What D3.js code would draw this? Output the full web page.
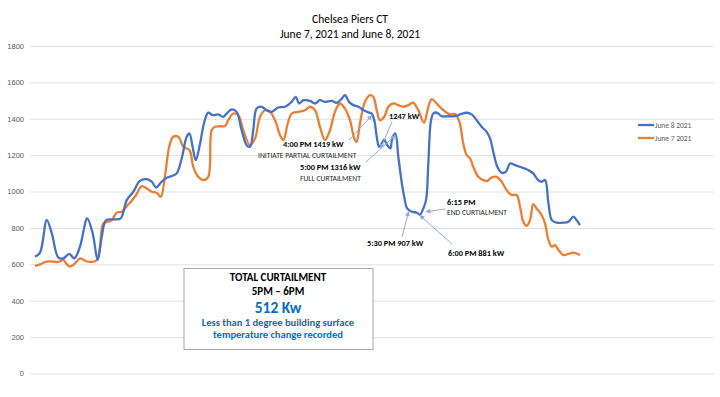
<!DOCTYPE html>
<html>
<head>
<meta charset="utf-8">
<script src="https://cdn.jsdelivr.net/npm/d3@7"></script>
<style>
  body { margin: 0; background: #fff; }
  svg { display: block; font-family: Carlito, "Liberation Sans Narrow", "Liberation Sans", sans-serif; }
</style>
</head>
<body>
<div class="canvas"></div>
<script>
// hour of day readings, kW
const june8Hours = [0, 0.22, 0.52, 0.74, 1.03, 1.25, 1.51, 1.73, 1.98, 2.30, 2.54, 2.76, 2.94, 3.13, 3.45, 3.77,
  4.04, 4.33, 4.62, 4.92, 5.14, 5.33, 5.58, 5.80, 6.06, 6.24, 6.46, 6.68, 6.80, 6.94, 7.08, 7.27, 7.44, 7.63,
  7.83, 8.07, 8.29, 8.45, 8.66, 8.88, 9.10, 9.32, 9.47, 9.61, 9.76, 9.98, 10.20, 10.42, 10.71, 11.01, 11.30,
  11.48, 11.63, 11.82, 12.11, 12.33, 12.55, 12.77, 13.07, 13.29, 13.51, 13.65, 13.83, 14.02, 14.24, 14.46,
  14.68, 14.83, 14.94, 15.05, 15.15, 15.27, 15.38, 15.51, 15.65, 15.73, 15.87, 16.00, 16.15, 16.26, 16.39,
  16.59, 16.81, 16.95, 17.07, 17.22, 17.32, 17.43, 17.54, 17.69, 17.91, 18.20, 18.50, 18.72, 19.01, 19.23,
  19.45, 19.67, 19.89, 20.04, 20.18, 20.36, 20.55, 20.74, 20.92, 21.14, 21.43, 21.72, 21.94, 22.16, 22.31,
  22.46, 22.61, 22.76, 22.97, 23.27, 23.49, 23.71, 23.85, 24];
const june8Kw = [642, 664, 843, 770, 637, 633, 657, 633, 697, 852, 770, 624, 752, 843, 847, 852,
  953, 999, 1059, 1068, 1054, 1023, 1054, 1076, 1087, 1100, 1182, 1301, 1319, 1246, 1173, 1264, 1374, 1434,
  1420, 1424, 1411, 1430, 1451, 1438, 1337, 1255, 1246, 1337, 1456, 1466, 1447, 1438, 1462, 1466, 1493,
  1520, 1484, 1502, 1498, 1484, 1502, 1493, 1498, 1488, 1511, 1530, 1493, 1475, 1466, 1448,
  1435, 1429, 1392, 1301, 1246, 1264, 1286, 1255, 1237, 1292, 1319, 1191, 1050, 971, 907,
  889, 884, 873, 898, 953, 1154, 1383, 1429, 1434, 1414, 1414, 1414, 1424, 1433, 1424,
  1392, 1356, 1328, 1292, 1219, 1136, 1103, 1109, 1154, 1145, 1133, 1118, 1100, 1063, 1054,
  1063, 935, 843, 829, 829, 834, 862, 843, 816];

const june7Hours = [0, 0.22, 0.52, 0.81, 1.03, 1.25, 1.40, 1.54, 1.76, 1.98, 2.20, 2.42, 2.72, 2.86, 3.01, 3.23,
  3.38, 3.60, 3.82, 4.04, 4.26, 4.45, 4.70, 4.92, 5.14, 5.36, 5.54, 5.72, 5.91, 6.09, 6.31, 6.53, 6.80, 6.97,
  7.19, 7.41, 7.63, 7.78, 7.93, 8.15, 8.37, 8.51, 8.73, 8.95, 9.17, 9.47, 9.69, 9.91, 10.13, 10.35, 10.57,
  10.79, 10.94, 11.13, 11.31, 11.60, 11.89, 12.11, 12.33, 12.55, 12.77, 12.99, 13.21, 13.43, 13.65, 13.87,
  14.06, 14.16, 14.31, 14.53, 14.75, 14.90, 15.05, 15.19, 15.38, 15.56, 15.78, 16.00, 16.22, 16.44, 16.66,
  16.88, 17.13, 17.32, 17.47, 17.69, 17.98, 18.28, 18.50, 18.69, 18.86, 19.01, 19.16, 19.30, 19.52, 19.74,
  19.92, 20.11, 20.33, 20.55, 20.77, 20.99, 21.21, 21.36, 21.50, 21.65, 21.80, 21.94, 22.09, 22.31, 22.46,
  22.61, 22.76, 22.90, 23.05, 23.27, 23.49, 23.71, 24];
const june7Kw = [591, 600, 615, 615, 613, 624, 600, 587, 605, 633, 620, 613, 624, 697, 825, 834,
  843, 884, 889, 920, 950, 981, 1030, 1017, 999, 993, 971, 1081, 1246, 1301, 1301, 1246, 1228, 1136,
  1081, 1063, 1081, 1337, 1356, 1359, 1360, 1392, 1429, 1420, 1337, 1255, 1292, 1411, 1447, 1438, 1392,
  1310, 1283, 1374, 1429, 1438, 1447, 1466, 1447, 1356, 1283, 1337, 1438, 1484, 1456, 1392,
  1292, 1273, 1374, 1493, 1530, 1520, 1447, 1392, 1411, 1466, 1484, 1475, 1466, 1475, 1488,
  1447, 1378, 1466, 1508, 1484, 1447, 1424, 1426, 1383, 1264, 1200, 1182, 1136, 1081, 1063,
  1059, 1078, 1081, 1054, 1008, 981, 981, 917, 834, 812, 843, 931, 907, 871, 825,
  734, 697, 706, 679, 651, 657, 664, 651];

const yTicks = [0, 200, 400, 600, 800, 1000, 1200, 1400, 1600, 1800];
const seriesNames = ['June 8 2021', 'June 7 2021'];
const seriesColours = ['#4472c4', '#ed7d31'];

const dims = {width: 720, height: 397};

const svg = d3.select('.canvas')
    .append('svg')
    .attr('width', dims.width)
    .attr('height', dims.height);

const x = d3.scaleLinear().domain([0, 24]).range([35, 580]);
const y = d3.scaleLinear().domain([0, 1800]).range([373.5, 46]);

// title
svg.append('text').attr('x', 350).attr('y', 23).attr('text-anchor', 'middle')
    .attr('font-size', 11.5).attr('fill', '#000').text('Chelsea Piers CT');
svg.append('text').attr('x', 350).attr('y', 38).attr('text-anchor', 'middle')
    .attr('font-size', 11.5).attr('fill', '#000').text('June 7, 2021 and June 8, 2021');

// y axis with gridlines
const yAxis = d3.axisLeft(y)
    .tickValues(yTicks)
    .tickFormat(d => d)
    .tickSize(-(714 - 30))
    .tickPadding(6);

svg.append('g')
    .attr('transform', 'translate(30,0)')
    .call(yAxis)
    .call(g => g.select('.domain').remove())
    .call(g => g.selectAll('line').attr('stroke', '#d9d9d9').attr('stroke-width', 0.8))
    .call(g => g.selectAll('text').attr('fill', '#595959').attr('font-size', 7.5)
        .attr('font-family', 'inherit'));

// lines
const line = d3.line()
    .x(d => x(d[0]))
    .y(d => y(d[1]))
    .curve(d3.curveCatmullRom.alpha(0.5));

const series = [
    d3.zip(june8Hours, june8Kw),
    d3.zip(june7Hours, june7Kw)
];

// orange drawn first, blue on top
[1, 0].forEach(i => {
    svg.append('path')
        .datum(series[i])
        .attr('fill', 'none')
        .attr('stroke', seriesColours[i])
        .attr('stroke-width', 2.3)
        .attr('stroke-linejoin', 'round')
        .attr('d', line);
});

// legend
const legendGroup = svg.append('g').attr('transform', 'translate(638,125)');
seriesNames.forEach((name, i) => {
    const g = legendGroup.append('g').attr('transform', `translate(0, ${i * 13})`);
    g.append('line').attr('x1', 0).attr('x2', 16).attr('y1', 0).attr('y2', 0)
        .attr('stroke', seriesColours[i]).attr('stroke-width', 2.3);
    g.append('text').attr('x', 17).attr('y', 2.6).attr('font-size', 7.5)
        .attr('fill', '#595959').text(name);
});

// annotations
const arrowCol = '#8faadc';
svg.append('defs').append('marker')
    .attr('id', 'arrow')
    .attr('viewBox', '0 0 10 10')
    .attr('refX', 9).attr('refY', 5)
    .attr('markerWidth', 5).attr('markerHeight', 5)
    .attr('orient', 'auto-start-reverse')
    .append('path')
    .attr('d', 'M0,0 L10,5 L0,10 z')
    .attr('fill', arrowCol);

// target point on June 8 curve, plus where the arrow tail sits
const notes = [
    {h: 14.83, kw: 1429, from: [349, 140]},
    {h: 15.87, kw: 1319, from: [366, 162]},
    {h: 15.22, kw: 1250, from: [392, 122]},
    {h: 16.45, kw: 900, from: [402, 237]},
    {h: 16.95, kw: 880, from: [452, 244]},
    {h: 17.22, kw: 900, from: [445, 209]}
];

notes.forEach(n => {
    svg.append('line')
        .attr('x1', n.from[0]).attr('y1', n.from[1])
        .attr('x2', x(n.h)).attr('y2', y(n.kw) + 2)
        .attr('stroke', arrowCol).attr('stroke-width', 1)
        .attr('marker-end', 'url(#arrow)');
});

const labels = [
    {t: '4:00 PM 1419 kW', x: 283, y: 147, bold: true},
    {t: 'INITIATE PARTIAL CURTAILMENT', x: 258, y: 158, bold: false},
    {t: '5:00 PM 1316 kW', x: 300, y: 170, bold: true},
    {t: 'FULL CURTAILMENT', x: 300, y: 181, bold: false},
    {t: '1247 kW', x: 389, y: 119, bold: true},
    {t: '6:15 PM', x: 447, y: 205, bold: true},
    {t: 'END CURTIALMENT', x: 447, y: 215, bold: false},
    {t: '5:30 PM 907 kW', x: 367, y: 246, bold: true},
    {t: '6:00 PM 881 kW', x: 448, y: 256, bold: true}
];

svg.append('g').selectAll('text')
    .data(labels)
    .join('text')
    .attr('x', d => d.x).attr('y', d => d.y)
    .attr('font-size', d => d.bold ? 8.3 : 7.6)
    .attr('font-weight', d => d.bold ? 'bold' : 'normal')
    .attr('fill', d => d.bold ? '#000' : '#262626')
    .text(d => d.t);

// summary box
const box = svg.append('g');
box.append('rect')
    .attr('x', 184).attr('y', 268.5).attr('width', 189).attr('height', 81)
    .attr('fill', '#fff').attr('stroke', '#a6a6a6').attr('stroke-width', 1);

const boxLines = [
    {t: 'TOTAL CURTAILMENT', y: 281, size: 11, col: '#000'},
    {t: '5PM \u2013 6PM', y: 295, size: 11, col: '#000'},
    {t: '512 Kw', y: 312.5, size: 15.5, col: '#0070c0'},
    {t: 'Less than 1 degree building surface', y: 326, size: 10.5, col: '#0070c0'},
    {t: 'temperature change recorded', y: 338, size: 10.5, col: '#0070c0'}
];
box.selectAll('text.b')
    .data(boxLines)
    .join('text')
    .attr('class', 'b')
    .attr('x', 278).attr('y', d => d.y)
    .attr('text-anchor', 'middle')
    .attr('font-size', d => d.size)
    .attr('font-weight', 'bold')
    .attr('fill', d => d.col)
    .text(d => d.t);
</script>
</body>
</html>
